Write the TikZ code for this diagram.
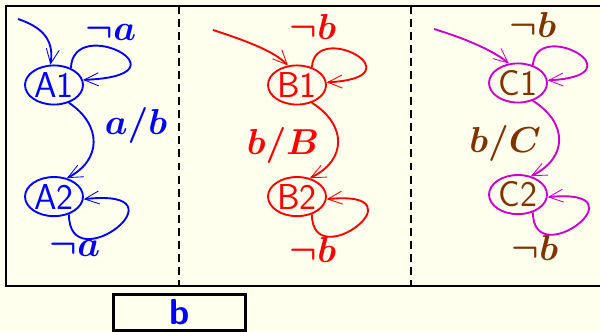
\documentclass[tikz,border=0pt]{standalone}
\usepackage{amssymb}
\usetikzlibrary{shapes.geometric,arrows.meta}
\definecolor{paper}{RGB}{255,255,238}
\definecolor{cmag}{RGB}{204,0,204}
\definecolor{cbrown}{RGB}{128,51,0}

\begin{document}
\begin{tikzpicture}[x=0.69pt, y=-0.69pt, node distance=77pt,
    st/.style={ellipse, draw, line width=1.3pt, minimum width=40pt, minimum height=27pt, inner sep=0pt, font=\Huge\sffamily},
    tr/.style={line width=1.3pt, -{Straight Barb[length=10pt,width=9pt,line width=0.6pt]}},
    lab/.style={font=\Huge\boldmath}]
    % paper and frame
    \fill[paper] (0,0) rectangle (600,332);
    \useasboundingbox (0,0) rectangle (600,332);
    \draw[line width=1.7pt] (6,6) rectangle (604,286);
    \draw[line width=1.3pt, dash pattern=on 5.5pt off 3.5pt] (179,6) -- (179,286);
    \draw[line width=1.3pt, dash pattern=on 5.5pt off 3.5pt] (411,6) -- (411,286);

    % first automaton
    \node[st, blue] (A1) at (54,85) {A1};
    \node[st, blue, below of=A1] (A2) {A2};
    \coordinate (A0) at (18,19);
    \draw[tr, blue] (A0) .. controls (45,28) and (54,42) .. (A1.100);
    \draw[tr, blue] (A1.45) .. controls +(2,-55) and +(112,-4) .. (A1.10);
    \draw[tr, blue] (A1.-50) .. controls (102,125) and (102,160) .. (A2.55);
    \draw[tr, blue] (A2.-50) .. controls +(0,68) and +(108,-12) .. (A2.-5);
    \node[lab, blue] (la1) at (111,32) {$\neg a$};
    \node[lab, blue] (la12) at (136,125) {$a/b$};
    \node[lab, blue] (la2) at (75,248) {$\neg a$};

    % second automaton
    \node[st, red] (B1) at (297,85) {B1};
    \node[st, red, below of=B1] (B2) {B2};
    \coordinate (B0) at (213,30);
    \draw[tr, red] (B0) .. controls (250,42) and (275,52) .. (B1.115);
    \draw[tr, red] (B1.50) .. controls +(3,-48) and +(95,-5) .. (B1.5);
    \draw[tr, red] (B1.-50) .. controls (347,125) and (347,160) .. (B2.55);
    \draw[tr, red] (B2.-50) .. controls +(0,62) and +(100,-10) .. (B2.-5);
    \node[lab, red] (lb1) at (313,27) {$\neg b$};
    \node[lab, red] (lb12) at (283,145) {$b/B$};
    \node[lab, red] (lb2) at (313,250) {$\neg b$};

    % third automaton
    \node[st, cmag, text=cbrown] (C1) at (518,83) {C1};
    \node[st, cmag, text=cbrown, below of=C1] (C2) {C2};
    \coordinate (C0) at (434,29);
    \draw[tr, cmag] (C0) .. controls (470,40) and (495,52) .. (C1.115);
    \draw[tr, cmag] (C1.50) .. controls +(3,-48) and +(95,-5) .. (C1.5);
    \draw[tr, cmag] (C1.-50) .. controls (568,123) and (568,158) .. (C2.55);
    \draw[tr, cmag] (C2.-50) .. controls +(0,62) and +(100,-10) .. (C2.-5);
    \node[lab, cbrown] (lc1) at (533,25) {$\neg b$};
    \node[lab, cbrown] (lc12) at (505,143) {$b/C$};
    \node[lab, cbrown] (lc2) at (535,248) {$\neg b$};

    % input tape
    \node[draw, line width=1.7pt, minimum width=91pt, minimum height=25pt, font=\Huge\sffamily\bfseries] (tape) at (179.5,312.5) {\textcolor{blue}{b}\hspace{17pt}};
\end{tikzpicture}
\end{document}
